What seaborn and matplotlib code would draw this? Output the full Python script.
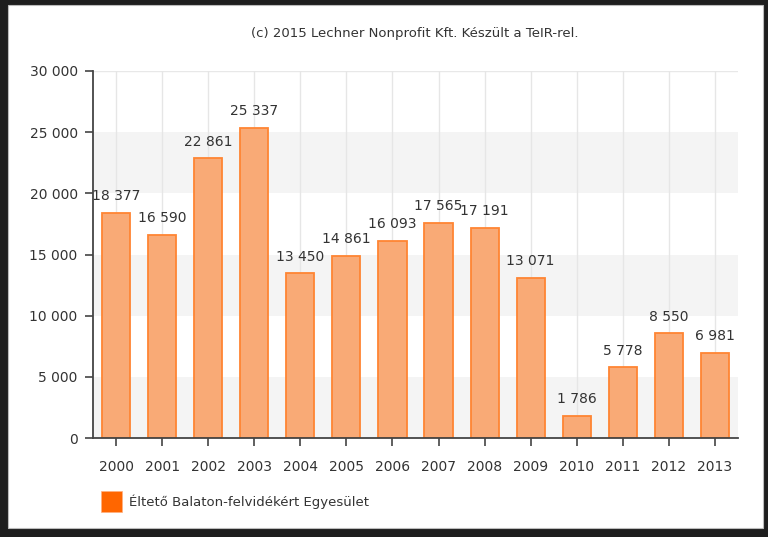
import matplotlib
matplotlib.use("Agg")
import matplotlib.pyplot as plt
import matplotlib.patches as mpatches
import pandas as pd
import seaborn as sns

# ── data ─────────────────────────────────────────────────────────────────────
years = ["2000", "2001", "2002", "2003", "2004", "2005", "2006",
         "2007", "2008", "2009", "2010", "2011", "2012", "2013"]
members = [18377, 16590, 22861, 25337, 13450, 14861, 16093,
           17565, 17191, 13071, 1786, 5778, 8550, 6981]
series_name = "Éltető Balaton-felvidékért Egyesület"
credit = "(c) 2015 Lechner Nonprofit Kft. Készült a TeIR-rel."
y_ticks = [0, 5000, 10000, 15000, 20000, 25000, 30000]

df = pd.DataFrame({"year": years, "value": members})

sns.set_theme(style="white")
plt.rcParams["font.family"] = ["DejaVu Sans"]

fig = plt.figure(figsize=(7.68, 5.37), dpi=100)
fig.patch.set_facecolor("#1e1e1e")
# white inner panel inside the dark frame
fig.patches.append(mpatches.Rectangle((8 / 768, 9 / 537), 755 / 768, 523 / 537,
                                      transform=fig.transFigure, facecolor="white",
                                      edgecolor="#bbbbbb", linewidth=0.8, zorder=-5))

ax = fig.add_axes([93 / 768, 1 - 438 / 537, 645 / 768, 367 / 537])
ax.set_facecolor("white")

# alternating horizontal bands
for i, lo in enumerate(y_ticks[:-1]):
    if i % 2 == 0:
        ax.axhspan(lo, y_ticks[i + 1], color="#f4f4f4", zorder=0, lw=0)
ax.axhline(30000, color="#e8e8e8", lw=1, zorder=0.5)

# vertical grid at categories
for x in range(len(years)):
    ax.axvline(x, color="#e6e6e6", lw=1, zorder=1)

sns.barplot(data=df, x="year", y="value", ax=ax, width=0.61, saturation=1,
            color="#f9aa76", edgecolor="#ff8533", linewidth=1.3, zorder=2)

labels = [f"{v:,}".replace(",", " ") for v in members]
ax.bar_label(ax.containers[0], labels=labels, padding=7, fontsize=10,
             color="#333333")

ax.set_xlim(-0.5, len(years) - 0.5)
ax.set_ylim(0, 30000)
ax.set_yticks(y_ticks)
ax.set_yticklabels([f"{t:,}".replace(",", " ") for t in y_ticks])
ax.set_xlabel("")
ax.set_ylabel("")

for s in ["top", "right"]:
    ax.spines[s].set_visible(False)
for s in ["left", "bottom"]:
    ax.spines[s].set_color("#444444")
    ax.spines[s].set_linewidth(1.3)
    ax.spines[s].set_zorder(3)
ax.tick_params(axis="both", which="major", direction="out", length=6,
               width=1.2, color="#444444", labelsize=10, labelcolor="#333333",
               left=True, bottom=True)
ax.tick_params(axis="x", pad=10)
ax.tick_params(axis="y", pad=5)

fig.text(415 / 768, 1 - 33 / 537, credit, ha="center", va="center",
         fontsize=9.5, color="#333333")

# legend
fig.patches.append(mpatches.Rectangle((101 / 768, 1 - 512 / 537), 21 / 768, 21 / 537,
                                      transform=fig.transFigure,
                                      facecolor="#ff6600", edgecolor="#ffb080",
                                      lw=0.5, zorder=3))
fig.text(129 / 768, 1 - 502 / 537, series_name, ha="left", va="center",
         fontsize=9.5, color="#333333")

fig.savefig("out.png", dpi=100, facecolor=fig.get_facecolor())
